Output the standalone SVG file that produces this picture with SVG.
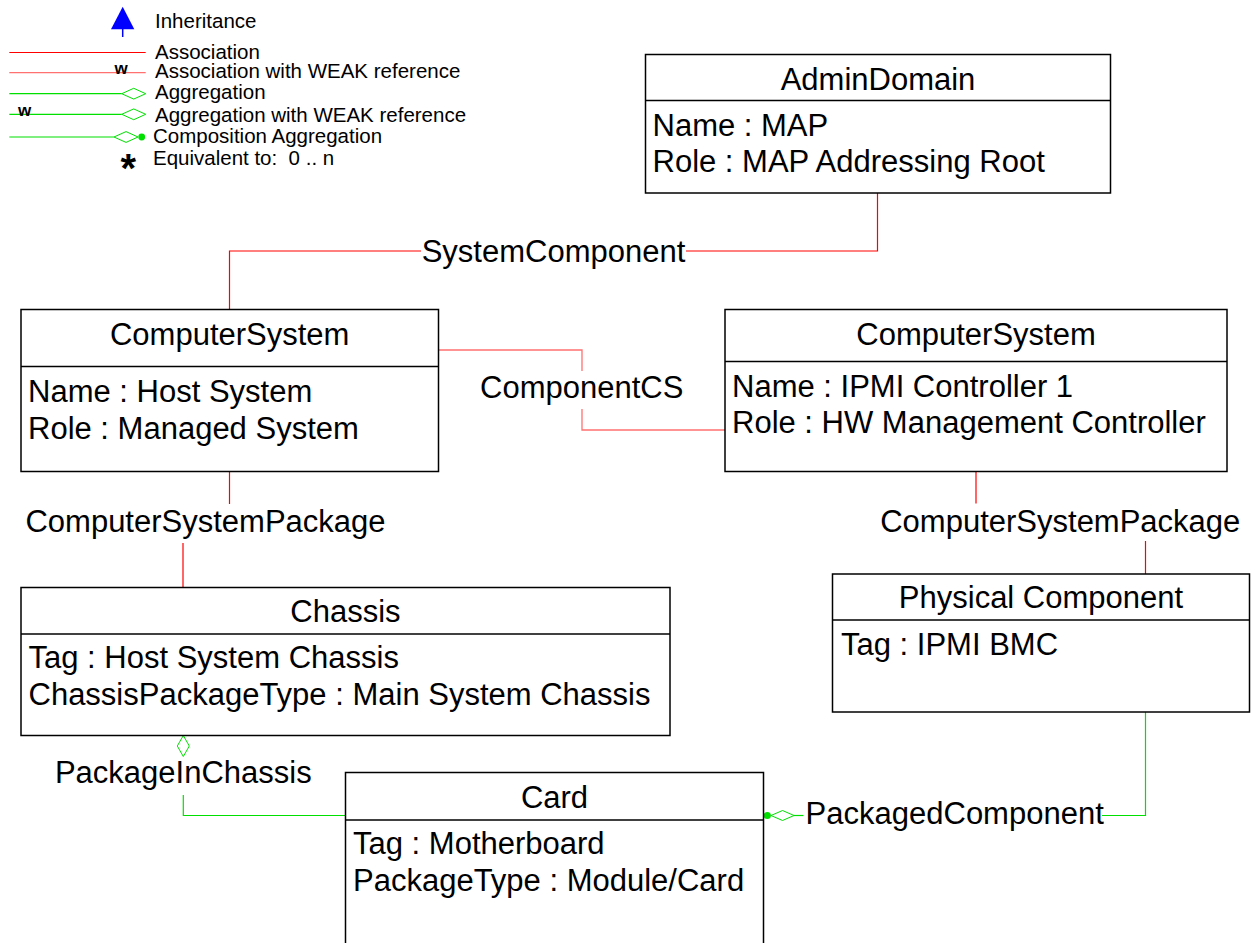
<svg xmlns="http://www.w3.org/2000/svg" width="1252" height="943" viewBox="0 0 1252 943">
<style>
.box{fill:#fff;stroke:#000;stroke-width:1.5}
.div{stroke:#000;stroke-width:1.5}
.t{font-family:"Liberation Sans",Arial,sans-serif;font-size:31px;fill:#000}
.c{text-anchor:middle}
.lg{font-family:"Liberation Sans",Arial,sans-serif;font-size:20.5px;fill:#000;white-space:pre}
.w{font-family:"Liberation Sans",Arial,sans-serif;font-size:17px;font-weight:bold;fill:#000}
.red{fill:none;stroke:#ff0000;stroke-width:1.2}
.pink{fill:none;stroke:#ff7070;stroke-width:1.3}
.grn{fill:none;stroke:#00e000;stroke-width:1.2}
.dia{fill:#fff;stroke:#00e000;stroke-width:1}
</style>
<rect width="1252" height="943" fill="#fff"/>
<g id="legend">
  <polygon points="122.7,6.7 134.3,29.3 111,29.3" fill="#0000ff"/>
  <line x1="122.7" y1="29" x2="122.7" y2="37" stroke="#0000ff" stroke-width="1.5"/>
  <text class="lg" x="155" y="28.3">Inheritance</text>
  <line class="red" x1="9.3" y1="52.5" x2="145.7" y2="52.5"/>
  <text class="lg" x="155" y="59">Association</text>
  <line class="pink" x1="9.3" y1="72.7" x2="145.7" y2="72.7"/>
  <text class="w" x="114.5" y="74">w</text>
  <text class="lg" x="155" y="78.3">Association with WEAK reference</text>
  <line class="grn" x1="9.3" y1="93.7" x2="121.7" y2="93.7"/>
  <polygon class="dia" points="121.7,93.7 133.7,88.3 145.7,93.7 133.7,99.1"/>
  <text class="lg" x="155" y="99.3">Aggregation</text>
  <line class="grn" x1="9.3" y1="114.3" x2="121.7" y2="114.3"/>
  <polygon class="dia" points="121.7,114.3 133.7,108.9 145.7,114.3 133.7,119.7"/>
  <text class="w" x="18" y="116">w</text>
  <text class="lg" x="155" y="121.7">Aggregation with WEAK reference</text>
  <line class="grn" x1="9.3" y1="137" x2="114" y2="137"/>
  <polygon class="dia" points="114,137 126,131.6 138,137 126,142.4"/>
  <circle cx="141.7" cy="137" r="3.4" fill="#00e000"/>
  <text class="lg" x="153" y="143.3">Composition Aggregation</text>
  <text x="128.3" y="182" text-anchor="middle" font-family="Liberation Sans,Arial,sans-serif" font-size="40" font-weight="bold">*</text>
  <text class="lg" x="153" y="165" xml:space="preserve">Equivalent to:  0 .. n</text>
</g>
<g id="connectors">
  <polyline class="red" points="877.5,193 877.5,251 686,251"/>
  <polyline class="red" points="421,251 229.5,251 229.5,309.5"/>
  <text class="t c" x="553.5" y="261.7">SystemComponent</text>
  <polyline class="pink" points="438.5,350 582,350 582,371"/>
  <polyline class="pink" points="582,409 582,430 725,430"/>
  <text class="t c" x="581.7" y="398.3">ComponentCS</text>
  <line class="red" x1="229.5" y1="471.5" x2="229.5" y2="504"/>
  <text class="t c" x="205.5" y="531.7">ComputerSystemPackage</text>
  <line class="red" x1="183" y1="543" x2="183" y2="587.5"/>
  <line class="red" x1="976" y1="471.5" x2="976" y2="503.5"/>
  <text class="t c" x="1060.3" y="531.7">ComputerSystemPackage</text>
  <line class="red" x1="1145.5" y1="541" x2="1145.5" y2="574"/>
  <polygon class="dia" points="183.3,735.5 189.3,746 183.3,756.5 177.3,746"/>
  <text class="t c" x="183.3" y="783.3">PackageInChassis</text>
  <polyline class="grn" points="183.3,795 183.3,815.5 345.5,815.5"/>
  <circle cx="767.3" cy="815.5" r="3.6" fill="#00e000"/>
  <polygon class="dia" points="771,815.5 782.5,810.5 794,815.5 782.5,820.5"/>
  <line class="grn" x1="794" y1="815.5" x2="803.5" y2="815.5"/>
  <text class="t c" x="954.7" y="824.3">PackagedComponent</text>
  <polyline class="grn" points="1102,815.5 1145.5,815.5 1145.5,712"/>
</g>
<g id="admindomain">
  <rect class="box" x="645.5" y="54.5" width="465" height="138.5"/>
  <line class="div" x1="645.5" y1="100.5" x2="1110.5" y2="100.5"/>
  <text class="t c" x="878" y="90">AdminDomain</text>
  <text class="t" x="652.5" y="135.7">Name : MAP</text>
  <text class="t" x="652.5" y="172.3">Role : MAP Addressing Root</text>
</g>
<g id="cs-host">
  <rect class="box" x="21" y="309.5" width="417.5" height="162"/>
  <line class="div" x1="21" y1="366.5" x2="438.5" y2="366.5"/>
  <text class="t c" x="229.7" y="345">ComputerSystem</text>
  <text class="t" x="28" y="401.7">Name : Host System</text>
  <text class="t" x="28" y="439.3">Role : Managed System</text>
</g>
<g id="cs-ipmi">
  <rect class="box" x="725" y="309.5" width="502" height="162"/>
  <line class="div" x1="725" y1="361.5" x2="1227" y2="361.5"/>
  <text class="t c" x="976" y="345">ComputerSystem</text>
  <text class="t" x="732" y="396.7">Name : IPMI Controller 1</text>
  <text class="t" x="732" y="433.3">Role : HW Management Controller</text>
</g>
<g id="chassis">
  <rect class="box" x="21" y="587.5" width="649" height="148"/>
  <line class="div" x1="21" y1="634" x2="670" y2="634"/>
  <text class="t c" x="345.5" y="621.7">Chassis</text>
  <text class="t" x="28.5" y="668.3">Tag : Host System Chassis</text>
  <text class="t" x="28.5" y="705">ChassisPackageType : Main System Chassis</text>
</g>
<g id="physical">
  <rect class="box" x="832.5" y="574" width="417" height="138"/>
  <line class="div" x1="832.5" y1="620" x2="1249.5" y2="620"/>
  <text class="t c" x="1041" y="608.3">Physical Component</text>
  <text class="t" x="841" y="655">Tag : IPMI BMC</text>
</g>
<g id="card">
  <rect class="box" x="345.5" y="772.5" width="418" height="200"/>
  <line class="div" x1="345.5" y1="820" x2="763.5" y2="820"/>
  <text class="t c" x="554.5" y="807.7">Card</text>
  <text class="t" x="353" y="854.3">Tag : Motherboard</text>
  <text class="t" x="353" y="891">PackageType : Module/Card</text>
</g>
</svg>
